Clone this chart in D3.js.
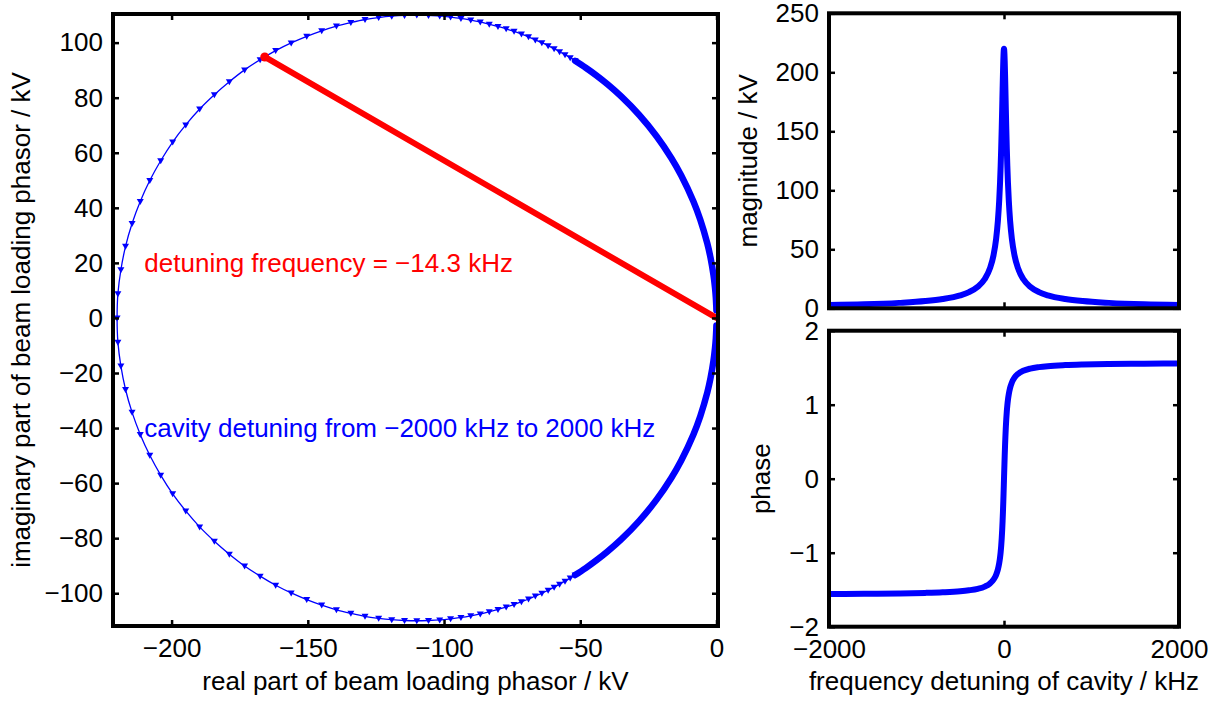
<!DOCTYPE html>
<html>
<head>
  <meta charset="utf-8">
  <title>Beam loading phasor vs cavity detuning</title>
  <script src="https://d3js.org/d3.v7.min.js"></script>
  <style>
    body { margin: 0; background: #fff; }
    svg text { font-family: "Liberation Sans", Arial, Helvetica, sans-serif; font-size: 26px; fill: #000; }
    .tick line { stroke-width: 2.5; }
  </style>
</head>
<body>
<svg id="fig" width="1214" height="702"></svg>
<script>
// ---- data ----
// circle markers, detuning -45 kHz .. +45 kHz (1 kHz steps), the sparse part of the circle
const arcRe = [-51.9, -53.7, -55.6, -57.6, -59.6, -61.8, -64.1, -66.5, -69.0, -71.6,
  -74.3, -77.2, -80.2, -83.4, -86.7, -90.2, -93.8, -97.6, -101.6, -105.7,
  -110.0, -114.5, -119.2, -124.0, -129.0, -134.2, -139.5, -144.9, -150.4, -156.1,
  -161.8, -167.5, -173.2, -178.8, -184.3, -189.7, -194.8, -199.6, -204.0, -208.0,
  -211.5, -214.5, -216.9, -218.6, -219.7, -220.0,
  -219.7, -218.6, -216.9, -214.5, -211.5, -208.0, -204.0, -199.6, -194.8, -189.7,
  -184.3, -178.8, -173.2, -167.5, -161.8, -156.1, -150.4, -144.9, -139.5, -134.2,
  -129.0, -124.0, -119.2, -114.5, -110.0, -105.7, -101.6, -97.6, -93.8, -90.2,
  -86.7, -83.4, -80.2, -77.2, -74.3, -71.6, -69.0, -66.5, -64.1, -61.8,
  -59.6, -57.6, -55.6, -53.7, -51.9];
const arcIm = [93.4, 94.5, 95.6, 96.7, 97.8, 98.9, 100.0, 101.0, 102.1, 103.1,
  104.1, 105.0, 105.9, 106.7, 107.5, 108.2, 108.8, 109.3, 109.7, 109.9,
  110.0, 109.9, 109.6, 109.1, 108.4, 107.3, 106.0, 104.3, 102.3, 99.9,
  97.1, 93.8, 90.1, 85.8, 81.1, 75.9, 70.1, 63.9, 57.1, 49.9,
  42.3, 34.3, 26.0, 17.5, 8.8, 0.0,
  -8.8, -17.5, -26.0, -34.3, -42.3, -49.9, -57.1, -63.9, -70.1, -75.9,
  -81.1, -85.8, -90.1, -93.8, -97.1, -99.9, -102.3, -104.3, -106.0, -107.3,
  -108.4, -109.1, -109.6, -109.9, -110.0, -109.9, -109.7, -109.3, -108.8, -108.2,
  -107.5, -106.7, -105.9, -105.0, -104.1, -103.1, -102.1, -101.0, -100.0, -98.9,
  -97.8, -96.7, -95.6, -94.5, -93.4];

// dense part (markers overlap into a band): -2000 kHz .. -46 kHz and +46 kHz .. +2000 kHz
const bandTopRe = [-0.03, -0.09, -0.24, -0.55, -1.12, -2.18, -3.38, -5.95, -8.46, -12.94,
  -16.60, -22.0, -28.35, -34.98, -40.0, -44.0, -48.0, -51.9];
const bandTopIm = [2.75, 4.40, 7.33, 10.97, 15.63, 21.78, 27.08, 35.68, 42.31, 51.76,
  58.11, 66.0, 73.71, 80.45, 84.85, 88.0, 90.86, 93.4];
const bandBotRe = [-51.9, -48.0, -44.0, -40.0, -34.98, -28.35, -22.0, -16.60, -12.94,
  -8.46, -5.95, -3.38, -2.18, -1.12, -0.55, -0.24, -0.09, -0.03];
const bandBotIm = [-93.4, -90.86, -88.0, -84.85, -80.45, -73.71, -66.0, -58.11, -51.76,
  -42.31, -35.68, -27.08, -21.78, -15.63, -10.97, -7.33, -4.40, -2.75];

// phasor at detuning -14.3 kHz
const detunedPoint = [-165.8, 94.8];

// magnitude and phase against detuning
const freqKHz = [-2000, -1600, -1200, -900, -700, -500, -400, -300, -220, -160, -120, -90, -70, -55,
  -45, -38, -32, -26, -21, -16, -12, -8, -5, -2, 0, 2, 5, 8, 12, 16, 21, 26, 32, 38, 45,
  55, 70, 90, 120, 160, 220, 300, 400, 500, 700, 900, 1200, 1600, 2000];
const magnitudeKV = [2.8, 3.4, 4.6, 6.1, 7.9, 11.0, 13.7, 18.3, 24.8, 34.0, 44.9, 58.9, 74.0, 91.0,
  106.8, 120.9, 135.4, 152.5, 168.5, 185.3, 198.3, 209.5, 215.7, 219.3, 220, 219.3, 215.7, 209.5,
  198.3, 185.3, 168.5, 152.5, 135.4, 120.9, 106.8, 91.0, 74.0, 58.9, 44.9, 34.0, 24.8, 18.3,
  13.7, 11.0, 7.9, 6.1, 4.6, 3.4, 2.8];
const phaseRad = [-1.558, -1.555, -1.550, -1.543, -1.535, -1.521, -1.508, -1.488, -1.458, -1.416,
  -1.365, -1.300, -1.228, -1.144, -1.064, -0.989, -0.908, -0.805, -0.699, -0.569, -0.448, -0.310,
  -0.197, -0.080, 0, 0.080, 0.197, 0.310, 0.448, 0.569, 0.699, 0.805, 0.908, 0.989, 1.064,
  1.144, 1.228, 1.300, 1.365, 1.416, 1.458, 1.488, 1.508, 1.521, 1.535, 1.543, 1.550, 1.555, 1.558];

// tick values
const reTicks = [-200, -150, -100, -50, 0];
const imTicks = [-100, -80, -60, -40, -20, 0, 20, 40, 60, 80, 100];
const freqTicks = [-2000, 0, 2000];
const magTicks = [0, 50, 100, 150, 200, 250];
const phaseTicks = [-2, -1, 0, 1, 2];

const BLUE = "#0000ff", RED = "#ff0000";
const svg = d3.select("#fig");
const fmt = d3.format("d");

// draws box + inward ticks on all four sides
function drawAxes(x, y, xt, yt, showX) {
  const [x0, x1] = x.range(), [y1, y0] = y.range();
  const g = svg.append("g");
  g.append("g").attr("transform", `translate(0,${y1})`)
    .call(d3.axisBottom(x).tickValues(xt).tickSize(-6).tickPadding(13)
      .tickFormat(showX ? fmt : () => ""));
  g.append("g").attr("transform", `translate(0,${y0})`)
    .call(d3.axisTop(x).tickValues(xt).tickSize(-6).tickFormat(() => ""));
  g.append("g").attr("transform", `translate(${x0},0)`)
    .call(d3.axisLeft(y).tickValues(yt).tickSize(-6).tickPadding(10).tickFormat(fmt));
  g.append("g").attr("transform", `translate(${x1},0)`)
    .call(d3.axisRight(y).tickValues(yt).tickSize(-6).tickFormat(() => ""));
  g.selectAll(".domain").remove();
  g.selectAll("text").attr("font-size", null).attr("font-family", null);
  g.append("rect").attr("x", x0).attr("y", y0).attr("width", x1 - x0).attr("height", y1 - y0)
    .attr("fill", "none").attr("stroke", "#000").attr("stroke-width", 4);
  return g;
}

// ---------- left: complex plane ----------
const xL = d3.scaleLinear().domain([-221.5, 0.55]).range([113, 718]);
const yL = d3.scaleLinear().domain([-111.9, 110.4]).range([626, 14]);

const arcPts = arcRe.map((r, i) => [r, arcIm[i]]);
const bandTop = bandTopRe.map((r, i) => [r, bandTopIm[i]]);
const bandBot = bandBotRe.map((r, i) => [r, bandBotIm[i]]);
const cline = d3.line().x(d => xL(d[0])).y(d => yL(d[1])).curve(d3.curveCatmullRom);

const left = svg.append("g");
left.append("path").datum(arcPts).attr("d", cline)
  .attr("fill", "none").attr("stroke", BLUE).attr("stroke-width", 1.3);
[bandTop, bandBot].forEach(b => {
  left.append("path").datum(b).attr("d", cline)
    .attr("fill", "none").attr("stroke", BLUE).attr("stroke-width", 6.5)
    .attr("stroke-linecap", "round");
});
// downward triangle markers
left.selectAll("path.mk").data(arcPts).join("path").attr("class", "mk")
  .attr("d", d => {
    const cx = xL(d[0]), cy = yL(d[1]);
    return `M${cx - 3.5},${cy - 2.5}L${cx + 3.5},${cy - 2.5}L${cx},${cy + 3.5}Z`;
  })
  .attr("fill", BLUE);

// red phasor
left.append("line")
  .attr("x1", xL(0)).attr("y1", yL(0))
  .attr("x2", xL(detunedPoint[0])).attr("y2", yL(detunedPoint[1]))
  .attr("stroke", RED).attr("stroke-width", 6).attr("stroke-linecap", "round");
left.append("circle").attr("cx", xL(detunedPoint[0])).attr("cy", yL(detunedPoint[1]))
  .attr("r", 4.5).attr("fill", RED);

left.append("text").attr("x", xL(-210)).attr("y", yL(20)).attr("dy", "0.35em")
  .style("fill", RED).text("detuning frequency = \u221214.3 kHz");
left.append("text").attr("x", xL(-210)).attr("y", yL(-40)).attr("dy", "0.35em")
  .style("fill", BLUE).text("cavity detuning from \u22122000 kHz to 2000 kHz");

drawAxes(xL, yL, reTicks, imTicks, true);

svg.append("text").attr("text-anchor", "middle").attr("x", 415.5).attr("y", 690)
  .text("real part of beam loading phasor / kV");
svg.append("text").attr("text-anchor", "middle")
  .attr("transform", "translate(30,320) rotate(-90)")
  .text("imaginary part of beam loading phasor / kV");

// ---------- right top: magnitude ----------
const xR = d3.scaleLinear().domain([-2000, 2000]).range([829, 1179]);
const yMag = d3.scaleLinear().domain([0, 250]).range([308.3, 13.3]);
const yPh = d3.scaleLinear().domain([-2, 2]).range([626.7, 330.7]);

svg.append("path").datum(freqKHz)
  .attr("d", d3.line().x(d => xR(d)).y((d, i) => yMag(magnitudeKV[i])).curve(d3.curveMonotoneX))
  .attr("fill", "none").attr("stroke", BLUE).attr("stroke-width", 6).attr("stroke-linejoin", "round");
drawAxes(xR, yMag, freqTicks, magTicks, false);
svg.append("text").attr("text-anchor", "middle")
  .attr("transform", "translate(757,160.8) rotate(-90)").text("magnitude / kV");

// ---------- right bottom: phase ----------
svg.append("path").datum(freqKHz)
  .attr("d", d3.line().x(d => xR(d)).y((d, i) => yPh(phaseRad[i])).curve(d3.curveMonotoneX))
  .attr("fill", "none").attr("stroke", BLUE).attr("stroke-width", 6).attr("stroke-linejoin", "round");
drawAxes(xR, yPh, freqTicks, phaseTicks, true);
svg.append("text").attr("text-anchor", "middle")
  .attr("transform", "translate(770,478.7) rotate(-90)").text("phase");
svg.append("text").attr("text-anchor", "middle").attr("x", 1004).attr("y", 690)
  .text("frequency detuning of cavity / kHz");
</script>
</body>
</html>
